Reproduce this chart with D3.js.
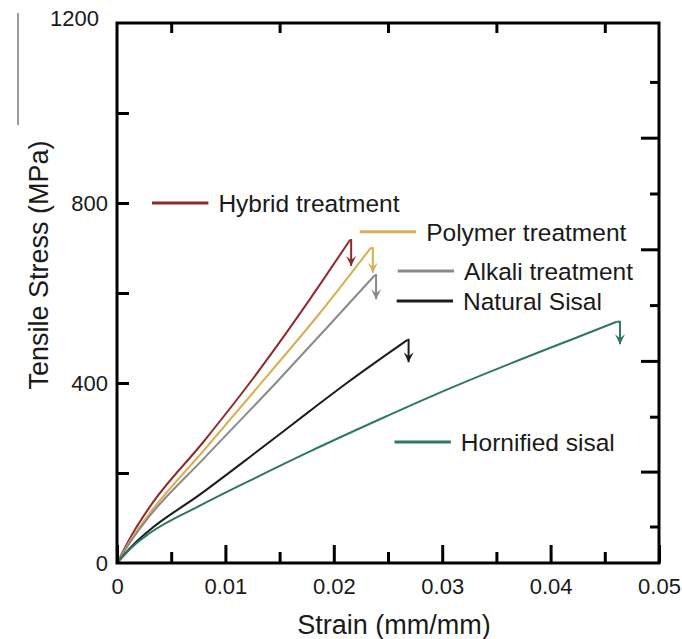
<!DOCTYPE html>
<html>
<head>
<meta charset="utf-8">
<script src="https://cdn.jsdelivr.net/npm/d3@7"></script>
<style>
  html, body { margin: 0; padding: 0; background: #fff; }
  svg { display: block; font-family: "Liberation Sans", Arial, sans-serif; }
</style>
</head>
<body>
<svg id="chart" width="682" height="639"></svg>
<script>
// Series names and colours
const seriesNames = ['Hybrid treatment', 'Polymer treatment', 'Alkali treatment', 'Natural Sisal', 'Hornified sisal'];
const seriesColors = ['#8e2b2f', '#d8ae55', '#8a8a8a', '#1c1c1c', '#2b7a5a'];

// Stress-strain points [strain, stress MPa]
const hybridPts = [[0, 0], [0.0015, 68], [0.003, 124], [0.008, 270], [0.01255, 410], [0.0157, 514], [0.0187, 618], [0.0215, 718]];
const polymerPts = [[0, 0], [0.0015, 60], [0.003, 110], [0.008, 250], [0.0138, 414], [0.0187, 555], [0.0234, 700]];
const alkaliPts = [[0, 0], [0.0015, 56], [0.003, 104], [0.008, 232], [0.0148, 404], [0.0194, 524], [0.0238, 640]];
const naturalPts = [[0, 0], [0.0014, 38], [0.0028, 69], [0.0077, 153], [0.0125, 240], [0.0178, 338], [0.0212, 400], [0.0268, 496]];
const hornifiedPts = [[0, 0], [0.0015, 38], [0.003, 66], [0.0077, 128], [0.0125, 186], [0.0178, 248], [0.0243, 320], [0.0307, 388], [0.0427, 504], [0.0461, 536]];

// Failure drop (strain where it drops, stress at the arrow tip)
const dropStrain = [0.0216, 0.0236, 0.0239, 0.0269, 0.0464];
const dropEnd = [660, 645, 586, 446, 486];

// Axis ticks
const xTicks = [0, 0.01, 0.02, 0.03, 0.04, 0.05];
const xMinorTicks = [0.005, 0.015, 0.025, 0.035, 0.045];
const yLabelTicks = [0, 400, 800, 1200];
const yAllTicks = [200, 400, 600, 800, 1000];
const rightTicks = [80, 202, 324, 448, 572, 696, 820, 944, 1068];

const allSeries = [hybridPts, polymerPts, alkaliPts, naturalPts, hornifiedPts];

const svg = d3.select('#chart');
const plot = {left: 117, right: 659, top: 23, bottom: 563};

const x = d3.scaleLinear().domain([0, 0.05]).range([plot.left, plot.right]);
const y = d3.scaleLinear().domain([0, 1200]).range([plot.bottom, plot.top]);

// Arrow heads
const defs = svg.append('defs');
seriesColors.forEach((c, i) => {
    defs.append('marker')
        .attr('id', 'arrow' + i)
        .attr('markerUnits', 'userSpaceOnUse')
        .attr('viewBox', '0 0 10 10')
        .attr('refX', 5).attr('refY', 10)
        .attr('markerWidth', 10).attr('markerHeight', 10)
        .attr('orient', '0')
        .append('path')
        .attr('d', 'M0,0 L5,4 L10,0 L5,10 Z')
        .attr('fill', c);
});

// stray rule on the far left
svg.append('line')
    .attr('x1', 18).attr('x2', 18).attr('y1', 13).attr('y2', 125)
    .attr('stroke', '#666').attr('stroke-width', 1.3);

// Curves
const line = d3.line().x(d => x(d[0])).y(d => y(d[1])).curve(d3.curveMonotoneX);

allSeries.forEach((pts, i) => {
    svg.append('path')
        .attr('d', line(pts))
        .attr('fill', 'none')
        .attr('stroke', seriesColors[i])
        .attr('stroke-width', 2)
        .attr('stroke-linejoin', 'round');

    const peak = pts[pts.length - 1];
    const drop = [[peak[0], peak[1]], [dropStrain[i], peak[1]], [dropStrain[i], dropEnd[i]]];
    svg.append('path')
        .attr('d', d3.line().x(d => x(d[0])).y(d => y(d[1]))(drop))
        .attr('fill', 'none')
        .attr('stroke', seriesColors[i])
        .attr('stroke-width', 2)
        .attr('marker-end', 'url(#arrow' + i + ')');
});

// Bottom axis: majors with labels, minors without
svg.append('g')
    .attr('transform', `translate(0,${plot.bottom})`)
    .call(d3.axisBottom(x).tickValues(xTicks).tickSize(-18).tickPadding(15)
        .tickFormat(d => d === 0 ? '0' : d3.format('.2f')(d)));
svg.append('g')
    .attr('transform', `translate(0,${plot.bottom})`)
    .call(d3.axisBottom(x).tickValues(xMinorTicks).tickSize(-11).tickFormat(''));

// Top axis minors
svg.append('g')
    .attr('transform', `translate(0,${plot.top})`)
    .call(d3.axisTop(x).tickValues(xMinorTicks).tickSize(-10).tickFormat(''));

// Left axis
svg.append('g')
    .attr('transform', `translate(${plot.left},0)`)
    .call(d3.axisLeft(y).tickValues(yAllTicks).tickSize(-12).tickFormat(''));
const yAxis = svg.append('g')
    .attr('transform', `translate(${plot.left},0)`)
    .call(d3.axisLeft(y).tickValues(yLabelTicks).tickSize(0).tickPadding(9).tickFormat(d3.format('d')));
yAxis.selectAll('text').filter(d => d === 1200).attr('dx', -9).attr('dy', '0.1em');

// Right axis (long and short ticks alternate)
const rightAxis = svg.append('g').attr('transform', `translate(${plot.right},0)`);
rightAxis.selectAll('line').data(rightTicks).enter().append('line')
    .attr('x1', 0)
    .attr('x2', (d, i) => i % 2 === 1 ? -18 : -9)
    .attr('y1', d => y(d)).attr('y2', d => y(d))
    .attr('stroke', '#000').attr('stroke-width', 3);

svg.selectAll('.domain').remove();
svg.selectAll('.tick line').attr('stroke', '#000').attr('stroke-width', 3);
svg.selectAll('.tick text')
    .attr('font-size', 22)
    .attr('fill', '#1a1a1a')
    .attr('font-family', '"Liberation Sans", Arial, sans-serif');

// Frame
svg.append('rect')
    .attr('x', plot.left).attr('y', plot.top)
    .attr('width', plot.right - plot.left).attr('height', plot.bottom - plot.top)
    .attr('fill', 'none').attr('stroke', '#000').attr('stroke-width', 3);

// Legend (key positions given in data units)
const legendKeyStart = [0.00323, 0.0224, 0.0259, 0.0258, 0.0256];
const legendKeyStress = [800, 736, 649, 582, 269];
const legendKeyLen = 0.0052;
const legendTextGap = 10;

const legend = svg.append('g');
seriesNames.forEach((name, i) => {
    const x0 = x(legendKeyStart[i]);
    const x1 = x(legendKeyStart[i] + legendKeyLen);
    const yy = y(legendKeyStress[i]);
    legend.append('line')
        .attr('x1', x0).attr('x2', x1).attr('y1', yy).attr('y2', yy)
        .attr('stroke', seriesColors[i]).attr('stroke-width', 3);
    legend.append('text')
        .attr('x', x1 + legendTextGap)
        .attr('y', yy)
        .attr('dy', '0.36em')
        .attr('font-size', 24.5)
        .attr('fill', '#1a1a1a')
        .text(name);
});

// Axis titles
svg.append('text')
    .attr('x', (plot.left + plot.right) / 2 + 6)
    .attr('y', 634)
    .attr('text-anchor', 'middle')
    .attr('font-size', 27)
    .attr('fill', '#1a1a1a')
    .text('Strain (mm/mm)');

svg.append('text')
    .attr('transform', 'translate(48,265) rotate(-90)')
    .attr('text-anchor', 'middle')
    .attr('font-size', 27)
    .attr('fill', '#1a1a1a')
    .text('Tensile Stress (MPa)');
</script>
</body>
</html>
